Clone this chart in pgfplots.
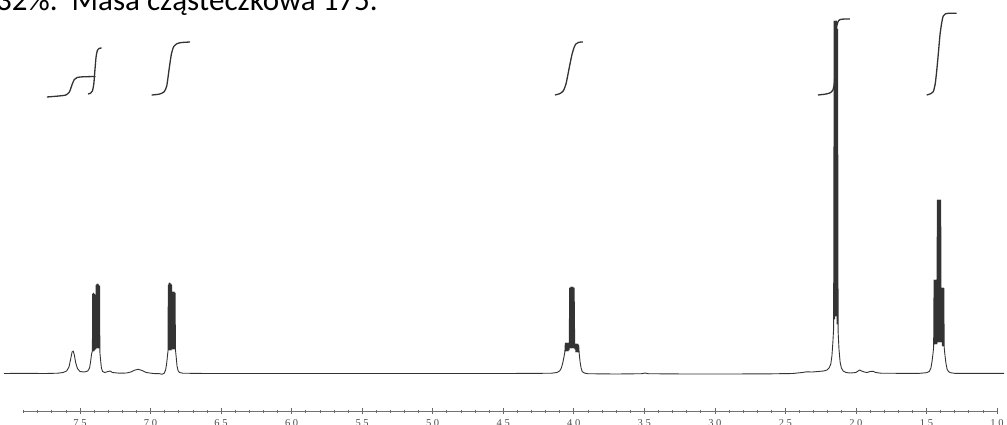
\documentclass[border=0pt]{standalone}
\usepackage{fontspec}
\setmainfont{Liberation Serif}
\newfontfamily\titlefont{Carlito}
\usepackage{pgfplots}
\pgfplotsset{compat=1.18}
\begin{document}
\begin{tikzpicture}
\begin{axis}[
  scale only axis,
  width=973.4pt, height=411pt,
  xmin=1.0, xmax=7.9, ymin=13, ymax=424,
  x dir=reverse,
  axis x line*=bottom, axis y line=none,
  clip=false,
  xtick={1.0,1.5,...,7.5},
  minor xtick={1.1,1.2,1.3,1.4,1.6,1.7,1.8,1.9,2.1,2.2,2.3,2.4,2.6,2.7,2.8,2.9,3.1,3.2,3.3,3.4,3.6,3.7,3.8,3.9,4.1,4.2,4.3,4.4,4.6,4.7,4.8,4.9,5.1,5.2,5.3,5.4,5.6,5.7,5.8,5.9,6.1,6.2,6.3,6.4,6.6,6.7,6.8,6.9,7.1,7.2,7.3,7.4,7.6,7.7,7.8,7.9},
  tick align=center,
  major tick length=6pt, minor tick length=3pt,
  x axis line style={black!55, line width=0.6pt},
  every tick/.style={black!60, line width=0.6pt},
  xticklabel style={font=\fontsize{10.5}{11}\selectfont, text=black!70, anchor=center, yshift=-9pt},
  /pgf/number format/.cd, fixed, fixed zerofill, precision=1, assume math mode=true,
]
\coordinate (BL) at (axis cs:8.067,0);
\coordinate (TR) at (axis cs:0.929,424);
\coordinate (T) at (axis cs:8.095,413);

% spectrum
\addplot[black!80, line width=0.9pt, line join=round] coordinates {
(8.04,50.5)(7.90,50.7)(7.75,50.5)(7.66,50.8)(7.62,51.5)(7.595,53)(7.578,57)(7.566,65)(7.556,72)(7.548,73)(7.540,69)(7.530,61)(7.518,55.5)(7.50,52.5)(7.47,52)(7.445,53)(7.432,56)(7.424,63)(7.418,70)
(7.412,73)(7.410,130)(7.407,73)(7.404,131)(7.401,73)(7.398,130)(7.395,74)(7.392,129)(7.389,75)(7.385,139)(7.382,76)(7.379,140)(7.376,76)(7.373,140)(7.370,76)(7.367,139)(7.364,76)(7.361,138)(7.359,72)(7.354,64)(7.348,56)(7.340,52.5)(7.325,51.5)(7.30,52.5)(7.285,53)(7.27,51.5)(7.22,50.8)(7.17,51)(7.14,52)(7.11,54)(7.085,54.7)(7.06,53.5)(7.03,51.5)(6.98,50.5)(6.935,50.3)(6.918,49.7)(6.903,50.8)(6.893,54)(6.886,60)(6.880,68)(6.876,73)
(6.874,139)(6.871,74)(6.868,141)(6.865,74)(6.862,141)(6.859,74)(6.856,140)(6.853,74)(6.850,139)(6.847,75)(6.844,132)(6.841,75)(6.838,132)(6.835,75)(6.832,132)(6.829,75)(6.826,131)(6.823,74)(6.818,67)(6.812,58)(6.805,53.5)(6.795,51.5)(6.77,50.8)(6.60,50.5)(6.30,50.5)(6.00,50.5)(5.50,50.5)(5.00,50.5)(4.60,50.5)(4.30,50.6)(4.16,50.8)(4.12,51.5)(4.10,53)(4.088,56)(4.078,61)(4.068,68)(4.063,72)
(4.060,81)(4.056,73)(4.052,81)(4.048,73)(4.044,81)(4.040,73)(4.036,81)(4.032,74)(4.029,136)(4.025,76)(4.021,137)(4.017,76)(4.013,137)(4.009,76)(4.005,137)(4.001,76)(3.997,136)(3.993,75)(3.989,80)(3.985,72)(3.981,80)(3.977,72)(3.973,80)(3.969,72)(3.965,79)(3.961,70)(3.955,62)(3.948,56)(3.94,52.5)(3.925,51)(3.90,50.3)(3.70,50)(3.52,50.3)(3.495,51)(3.47,50.3)(3.20,50)(2.90,50)(2.60,50.2)(2.45,50.5)(2.38,51.5)(2.35,52.2)(2.31,52)(2.27,52.5)(2.23,53)(2.205,54)(2.19,56)(2.178,60)(2.170,68)(2.164,80)(2.158,95)
(2.154,403)(2.150,105)(2.146,403)(2.142,108)(2.138,403)(2.134,100)(2.130,395)(2.126,92)(2.12,75)(2.112,62)(2.103,56)(2.09,53)(2.07,51.5)(2.04,51)(2.00,51.5)(1.985,53)(1.972,54)(1.96,53)(1.94,52)(1.92,51.5)(1.90,52.5)(1.877,52.7)(1.86,51.5)(1.82,50.8)(1.70,50.7)(1.55,50.7)(1.50,51.3)(1.48,52.5)(1.468,56)(1.460,63)(1.453,71)(1.449,77)
(1.446,144)(1.442,80)(1.438,144)(1.434,80)(1.430,144)(1.426,80)(1.423,224)(1.419,82)(1.415,224)(1.411,82)(1.407,224)(1.403,82)(1.399,224)(1.395,82)(1.392,136)(1.388,78)(1.384,136)(1.380,78)(1.377,136)(1.374,76)(1.368,68)(1.362,61)(1.354,55)(1.344,52.5)(1.33,51.3)(1.30,50.7)(1.20,50.7)(1.05,50.7)(0.95,50.7)
};

% integrals
\pgfplotsset{integ/.style={black!80, line width=1.3pt, smooth, tension=0.4}}
\addplot[integ] coordinates {
(7.734,327)(7.65,328)(7.60,329)(7.575,332)(7.557,339)(7.54,344.5)(7.52,346.5)(7.48,347.2)(7.39,347.5)};
\addplot[integ] coordinates {
(7.443,330)(7.425,330.8)(7.412,333)(7.402,340)(7.394,354)(7.386,367)(7.377,373.5)(7.366,375.5)(7.347,376)};
\addplot[integ] coordinates {
(6.992,329)(6.94,329.8)(6.905,332)(6.885,338)(6.869,354)(6.852,370)(6.835,377.5)(6.81,380.5)(6.777,381.5)(6.72,382)};
\addplot[integ] coordinates {
(4.133,329)(4.10,330.3)(4.075,333)(4.055,340)(4.035,354)(4.015,368)(3.999,376)(3.985,380)(3.965,381.7)(3.936,382)};
\addplot[integ] coordinates {
(2.269,329)(2.22,329.8)(2.185,331)(2.163,334)(2.152,342)(2.145,365)(2.140,390)(2.134,399)(2.122,403.5)(2.10,404.8)(2.042,405)};
\addplot[integ] coordinates {
(1.498,329)(1.47,330.3)(1.4515,332.3)(1.438,340)(1.428,352)(1.416,370)(1.404,389)(1.392,401)(1.381,408)(1.365,410.2)(1.345,410.7)(1.286,410.7)};
\end{axis}
\node[anchor=base west, inner sep=0pt, font=\titlefont\fontsize{31pt}{32pt}\selectfont] at (T) {32\%.\ \ Masa cząsteczkowa 175.};
\pgfresetboundingbox
\useasboundingbox (BL) rectangle (TR);
\end{tikzpicture}
\end{document}
